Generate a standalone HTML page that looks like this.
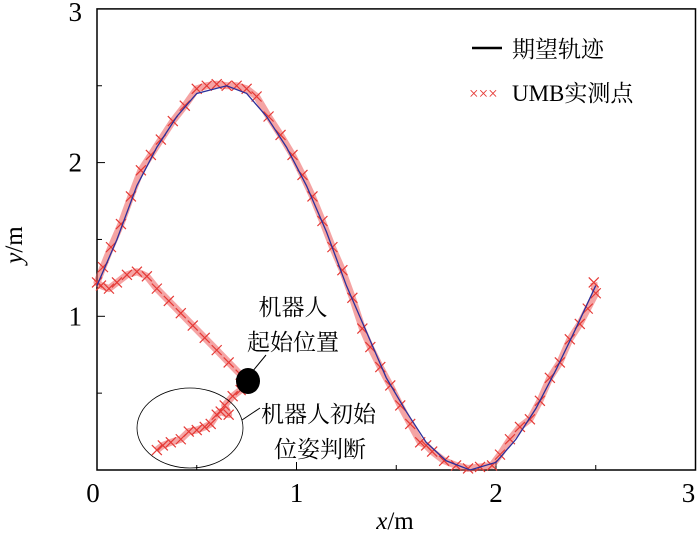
<!DOCTYPE html>
<html><head><meta charset="utf-8"><style>
body{margin:0;background:#fff}
svg text{font-family:"Liberation Serif","Noto Serif CJK SC",serif}
</style></head><body>
<svg id="c" width="700" height="531" xmlns="http://www.w3.org/2000/svg"></svg>
<script>
const refX=[0,0.1,0.2,0.3,0.4,0.5,0.65,0.75,0.85,0.95,1.05,1.15,1.25,1.35,1.45,1.55,1.65,1.75,1.87,2.0,2.1,2.2,2.3,2.4,2.5];
const refY=[1.2,1.5,1.85,2.1,2.3,2.45,2.5,2.45,2.3,2.1,1.85,1.55,1.2,0.9,0.6,0.38,0.18,0.06,0,0.05,0.2,0.4,0.65,0.92,1.2];
const umbX=[0.3,0.33,0.37,0.42,0.46,0.5,0.54,0.57,0.6,0.62,0.66,0.64,0.68,0.72,0.76,0.72,0.66,0.6,0.54,0.48,0.42,0.36,0.3,0.25,0.2,0.15,0.1,0.06,0.02,0,0.03,0.07,0.12,0.17,0.22,0.27,0.32,0.38,0.44,0.5,0.55,0.6,0.65,0.7,0.75,0.8,0.86,0.92,0.98,1.03,1.08,1.13,1.18,1.23,1.28,1.33,1.37,1.42,1.47,1.52,1.57,1.62,1.65,1.68,1.74,1.8,1.86,1.92,1.98,2.02,2.07,2.12,2.17,2.22,2.27,2.32,2.37,2.42,2.46,2.5,2.49];
const umbY=[0.13,0.16,0.18,0.2,0.25,0.26,0.28,0.3,0.36,0.38,0.36,0.42,0.48,0.52,0.56,0.62,0.7,0.78,0.86,0.94,1.02,1.1,1.18,1.26,1.29,1.27,1.22,1.18,1.2,1.22,1.32,1.45,1.6,1.78,1.95,2.05,2.15,2.27,2.37,2.48,2.5,2.51,2.5,2.5,2.48,2.43,2.3,2.18,2.05,1.92,1.78,1.62,1.45,1.3,1.12,0.92,0.8,0.67,0.55,0.42,0.3,0.18,0.16,0.12,0.06,0.03,0.01,0.02,0.03,0.1,0.2,0.28,0.33,0.45,0.6,0.7,0.85,0.95,1.05,1.15,1.22];
const xTicks=[0,1,2,3];
const yTicks=[1,2,3];
const X0=97,XU=199.5,Y0=470,YU=153.7;
const sx=v=>X0+v*XU, sy=v=>Y0-v*YU;
const svg=document.getElementById('c');const NS='http://www.w3.org/2000/svg';
function mk(t,a,p){const e=document.createElementNS(NS,t);for(const k in a)e.setAttribute(k,a[k]);(p||svg).appendChild(e);return e;}
const box=mk('rect',{x:sx(0),y:sy(3),width:sx(3)-sx(0),height:sy(0)-sy(3),fill:'none',stroke:'#000','stroke-width':1.5});


for(let i=1;i<6;i++){const x=sx(i*0.5);const t=mk('line',{x1:x,x2:x,y1:Y0,y2:Y0-(i%2?5:8),stroke:'#000','stroke-width':1});

}
for(let i=1;i<6;i++){const y=sy(i*0.5);const t=mk('line',{x1:X0,x2:X0+(i%2?5:8),y1:y,y2:y,stroke:'#000','stroke-width':1});

}
xTicks.forEach(v=>{const t=mk('text',{x:sx(v)-(v==3?7:(v==0?4:0)),y:502,'text-anchor':'middle','font-size':27});t.textContent=v;

});
yTicks.forEach(v=>{const t=mk('text',{x:82,y:sy(v)+9+(v==3?3:0),'text-anchor':'end','font-size':27});t.textContent=v;

});
let pd='';umbX.forEach((v,i)=>{pd+=(i?'L':'M')+sx(v)+' '+sy(umbY[i]);});
const rl=mk('path',{d:pd,fill:'none',stroke:'#ec5a5a','stroke-width':7,opacity:0.55,'stroke-linejoin':'round'});


umbX.forEach((v,i)=>{const x=sx(v),y=sy(umbY[i]);const m=mk('path',{d:`M${x-5} ${y-5}L${x+5} ${y+5}M${x-5} ${y+5}L${x+5} ${y-5}`,stroke:'#e53935','stroke-width':1.2});

});
let d='';refX.forEach((v,i)=>{d+=(i?'L':'M')+sx(v)+' '+sy(refY[i]);});
const bl=mk('path',{d:d,fill:'none',stroke:'#2b2f9a','stroke-width':1.3});


</script>
<svg style="position:absolute;left:0;top:0" width="700" height="531" xmlns="http://www.w3.org/2000/svg">
<g>
<line x1="472" y1="48" x2="502" y2="48" stroke="#000" stroke-width="2.5"/>
<text x="512" y="57" font-size="23" font-family="Liberation Serif,Noto Serif CJK SC,serif">期望轨迹</text>
<text x="469" y="99" font-size="17" fill="#e53935" font-family="Liberation Sans,sans-serif">×××</text>
<text x="512" y="101" font-size="23" font-family="Liberation Serif,Noto Serif CJK SC,serif">UMB实测点</text>
</g>
<ellipse cx="248" cy="381" rx="12" ry="13" fill="#000"/>
<line x1="266" y1="355" x2="252" y2="372" stroke="#000"/>
<text x="293" y="315" font-size="23" text-anchor="middle" font-family="Noto Serif CJK SC,serif">机器人</text>
<text x="293" y="350" font-size="23" text-anchor="middle" font-family="Noto Serif CJK SC,serif">起始位置</text>
<ellipse cx="190" cy="428" rx="53" ry="40" fill="none" stroke="#000" stroke-width="0.8"/>
<line x1="242" y1="420" x2="260" y2="408" stroke="#000"/>
<text x="261" y="422" font-size="23" font-family="Noto Serif CJK SC,serif">机器人初始</text>
<text x="274" y="457" font-size="23" font-family="Noto Serif CJK SC,serif">位姿判断</text>
<text x="395" y="529" font-size="25" text-anchor="middle" font-family="Liberation Serif,serif"><tspan font-style="italic">x</tspan>/m</text>
<text transform="translate(22,245) rotate(-90)" font-size="25" text-anchor="middle" font-family="Liberation Serif,serif"><tspan font-style="italic">y</tspan>/m</text>
</svg>
</body></html>
